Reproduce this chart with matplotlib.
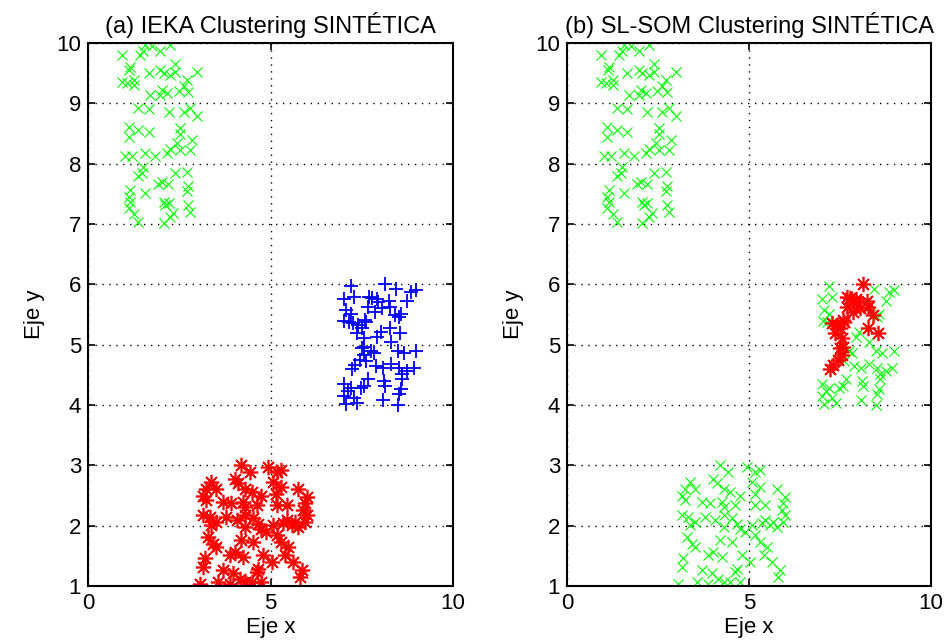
import matplotlib
matplotlib.use("Agg")
import matplotlib.pyplot as plt

# ---- data ----
top_x = [1.57, 1.75, 1.98, 2.25, 0.93, 1.43, 1.51, 1.15, 1.12, 1.66, 1.98, 2.07, 2.39, 2.39, 2.25,
         2.99, 0.93, 1.06, 1.25, 1.25, 2.71, 2.62, 2.48, 2.75, 2.02, 1.98, 1.70, 2.16, 1.38, 1.66,
         2.21, 2.62, 2.80, 2.99, 1.11, 1.38, 1.66, 1.11, 2.53, 2.53, 2.85, 2.44, 2.25, 2.53, 2.80,
         1.02, 1.21, 1.57, 1.84, 2.16, 1.52, 1.47, 1.38, 2.39, 2.71, 2.02, 2.20, 1.93, 2.75, 2.71,
         1.57, 1.15, 1.11, 1.15, 1.11, 1.25, 1.38, 2.07, 2.21, 2.12, 2.34, 2.25, 2.75, 2.80, 2.07]
top_y = [9.97, 9.95, 9.87, 9.97, 9.80, 9.80, 9.87, 9.61, 9.55, 9.51, 9.55, 9.50, 9.66, 9.52, 9.47,
         9.52, 9.36, 9.33, 9.39, 9.30, 9.39, 9.28, 9.21, 9.19, 9.22, 9.14, 9.14, 9.17, 8.92, 8.90,
         8.86, 8.86, 8.92, 8.79, 8.61, 8.56, 8.53, 8.44, 8.59, 8.50, 8.39, 8.34, 8.25, 8.22, 8.22,
         8.13, 8.12, 8.17, 8.13, 8.17, 7.95, 7.85, 7.80, 7.84, 7.87, 7.70, 7.67, 7.66, 7.63, 7.55,
         7.51, 7.56, 7.45, 7.37, 7.26, 7.17, 7.04, 7.37, 7.34, 7.31, 7.18, 7.12, 7.31, 7.20, 7.02]

# middle cluster, part that SL-SOM assigns to the red group
mid_a_x = [8.14, 7.77, 7.95, 7.68, 8.05, 7.87, 8.28, 8.41, 7.59, 7.27, 7.41, 7.50, 7.36, 8.28,
           8.55, 7.55, 7.50, 7.55, 7.45, 7.32, 7.22, 7.70, 7.93, 8.25, 7.61, 7.57]
mid_a_y = [6.00, 5.77, 5.71, 5.63, 5.60, 5.54, 5.63, 5.49, 5.41, 5.36, 5.33, 5.27, 5.19, 5.27,
           5.19, 5.11, 4.94, 4.83, 4.75, 4.66, 4.60, 5.79, 5.76, 5.73, 5.37, 4.96]
# middle cluster, remaining points
mid_b_x = [7.20, 8.43, 8.84, 8.98, 7.00, 7.29, 8.75, 7.06, 7.20, 8.57, 7.02, 7.15, 8.52, 8.30,
           7.75, 7.84, 8.48, 8.66, 8.98, 7.61, 7.89, 8.07, 8.30, 8.52, 8.94, 8.75, 8.61, 8.11,
           7.66, 7.00, 7.20, 7.11, 7.47, 7.57, 8.57, 8.52, 7.00, 7.29, 7.06, 7.38, 8.07, 8.48,
           8.14, 8.60, 7.93, 8.02]
mid_b_y = [5.98, 5.93, 5.87, 5.90, 5.76, 5.79, 5.73, 5.57, 5.51, 5.51, 5.40, 5.37, 5.46, 5.04,
           4.90, 4.87, 4.90, 4.87, 4.90, 4.73, 4.65, 4.62, 4.68, 4.62, 4.62, 4.57, 4.51, 4.40,
           4.43, 4.34, 4.29, 4.23, 4.29, 4.32, 4.26, 4.18, 4.15, 4.12, 4.01, 4.04, 4.09, 4.00,
           4.32, 4.43, 5.12, 5.21]

bot_x = [4.20, 4.43, 4.94, 5.17, 5.30, 3.38, 3.24, 3.52, 4.02, 4.11, 4.30, 4.48, 5.07, 5.30,
         5.76, 3.15, 3.24, 4.75, 5.16, 5.99, 3.70, 3.93, 4.25, 4.30, 4.62, 5.17, 5.44, 5.94,
         5.90, 5.99, 3.15, 3.33, 3.52, 3.38, 3.79, 4.07, 4.30, 4.52, 4.66, 4.30, 4.75, 5.07,
         5.35, 5.58, 5.67, 5.76, 5.94, 5.44, 5.17, 4.89, 3.29, 3.43, 3.52, 4.20, 4.52, 5.30,
         5.49, 4.02, 3.88, 4.25, 4.80, 5.40, 5.62, 3.20, 5.03, 3.15, 3.70, 3.97, 4.66, 4.62,
         5.85, 5.81, 3.56, 4.16, 4.30, 4.48, 4.75, 3.06, 3.88]
bot_y = [3.00, 2.89, 2.97, 2.89, 2.92, 2.72, 2.61, 2.61, 2.78, 2.70, 2.61, 2.56, 2.72, 2.64,
         2.61, 2.50, 2.42, 2.50, 2.53, 2.48, 2.39, 2.37, 2.39, 2.31, 2.34, 2.34, 2.34, 2.37,
         2.26, 2.17, 2.17, 2.15, 2.06, 2.01, 2.15, 2.09, 2.17, 2.12, 2.03, 1.98, 1.95, 2.01,
         2.04, 2.01, 2.06, 1.98, 2.06, 2.09, 1.84, 1.90, 1.81, 1.70, 1.65, 1.76, 1.73, 1.73,
         1.65, 1.57, 1.51, 1.48, 1.51, 1.51, 1.40, 1.46, 1.40, 1.32, 1.26, 1.21, 1.29, 1.23,
         1.26, 1.15, 1.07, 1.12, 1.07, 1.07, 1.07, 1.04, 1.04]

titles = ["(a) IEKA Clustering SINTÉTICA", "(b) SL-SOM Clustering SINTÉTICA"]
xticks = [0, 5, 10]
yticks = [1, 2, 3, 4, 5, 6, 7, 8, 9, 10]

GREEN = (0, 1, 0)
BLUE = (0, 0, 1)
RED = (1, 0, 0)
ASTERISK = (8, 2, 0)

plt.rcParams['font.family'] = ['Liberation Sans', 'DejaVu Sans']

fig = plt.figure(figsize=(9.46, 6.43), dpi=100)
ax1 = fig.add_axes([88/946, 1-586/643, (453-88)/946, (586-43)/643])
ax2 = fig.add_axes([567/946, 1-586/643, (931-567)/946, (586-43)/643])

mk = dict(linestyle='none')
gx = dict(marker='x', color=GREEN, markersize=7, markeredgewidth=0.8, **mk)
rs = dict(marker=ASTERISK, color=RED, markersize=11, markeredgewidth=1.2, **mk)
# (a) IEKA
ax1.plot(top_x, top_y, **gx)
ax1.plot(mid_a_x + mid_b_x, mid_a_y + mid_b_y, '+', color=BLUE, markersize=10,
         markeredgewidth=1.3, **mk)
ax1.plot(bot_x, bot_y, **rs)
# (b) SL-SOM
ax2.plot(top_x, top_y, **gx)
ax2.plot(mid_b_x, mid_b_y, **gx)
ax2.plot(bot_x, bot_y, **gx)
ax2.plot(mid_a_x, mid_a_y, **rs)

for ax, t in zip([ax1, ax2], titles):
    ax.set_xlim(0, 10)
    ax.set_ylim(1, 10)
    ax.set_xticks(xticks)
    ax.set_yticks(yticks)
    ax.tick_params(direction='in', top=True, right=True, length=5, width=1.2,
                   labelsize=16, pad=5)
    ax.grid(True, linestyle=(0, (1, 4)), color='black', linewidth=1.0)
    for s in ax.spines.values():
        s.set_linewidth(1.5)
    ax.set_title(t, fontsize=17, pad=7)
    ax.set_xlabel("Eje x", fontsize=16, labelpad=2)
    ax.set_ylabel("Eje y", fontsize=16, labelpad=8)

fig.savefig("out.png", dpi=100)
